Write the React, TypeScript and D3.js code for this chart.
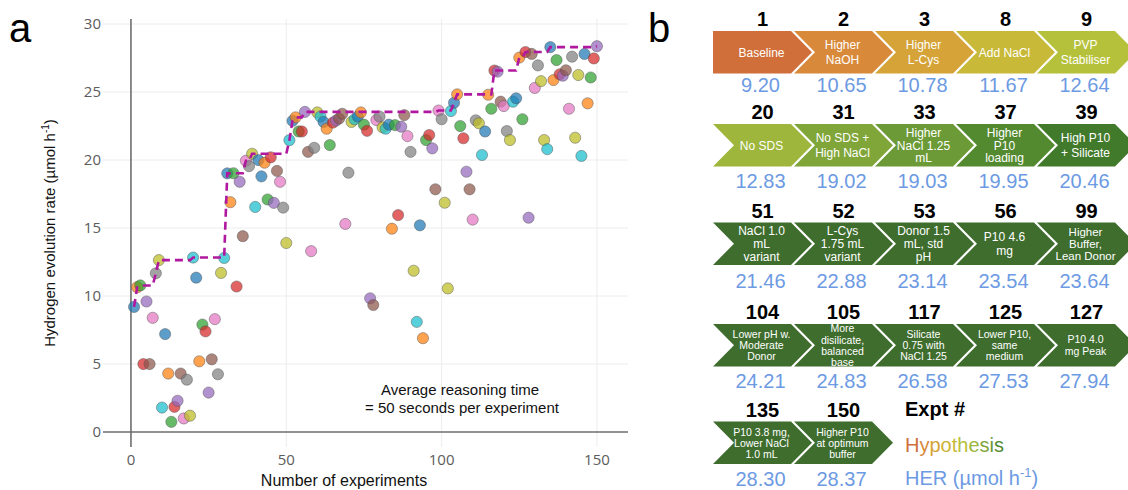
import { useEffect, useRef } from "react";
import * as d3 from "d3";

// HER per experiment (µmol h-1), experiments 1..150
const her = [
  9.2, 10.65, 10.78, 5.0, 9.6, 5.0, 8.4, 11.67, 12.64, 1.8,
  7.2, 4.3, 0.75, 1.85, 2.3, 4.3, 1.0, 3.85, 1.2, 12.83,
  11.35, 5.2, 7.9, 7.4, 2.9, 5.35, 8.3, 4.25, 11.7, 12.8,
  19.02, 16.9, 19.03, 10.7, 18.4, 14.4, 19.95, 19.55, 20.46, 16.55,
  20.0, 18.8, 19.8, 17.1, 20.2, 16.85, 19.2, 18.4, 16.5, 13.9,
  21.46, 22.88, 23.14, 22.1, 22.1, 23.54, 20.6, 13.3, 20.9, 23.5,
  23.2, 22.8, 22.3, 21.1, 22.75, 22.9, 23.05, 23.4, 15.3, 19.07,
  22.8, 23.0, 23.2, 23.5, 22.6, 22.15, 9.83, 9.34, 22.94, 23.2,
  22.4, 22.3, 22.6, 14.95, 22.57, 15.95, 22.45, 23.3, 21.76, 20.6,
  11.86, 8.1, 15.2, 6.9, 21.47, 21.84, 20.86, 17.85, 23.64, 23.0,
  16.86, 10.56, 23.6, 24.21, 24.83, 22.5, 21.6, 19.14, 17.85, 15.62,
  22.92, 22.7, 20.37, 22.1, 24.8, 23.77, 26.58, 26.5, 24.29, 23.97,
  22.13, 21.47, 24.29, 24.54, 27.53, 23.0, 27.94, 15.76, 27.8, 25.3,
  26.96, 25.8, 21.47, 20.8, 28.3, 25.88, 27.35, 26.3, 26.2, 26.6,
  23.77, 27.6, 21.64, 26.25, 20.3, 27.8, 24.17, 26.07, 27.47, 28.37,
];
const experiments = her.map((_, i) => i + 1);
// experiments where the colour cycle did not advance
const cycleRepeats = [42, 68, 102, 133, 144];

const milestoneExpt = [1, 2, 3, 8, 9, 20, 31, 33, 37, 39, 51, 52, 53, 56, 99, 104, 105, 117, 125, 127, 135, 150];
const milestoneHer = [9.2, 10.65, 10.78, 11.67, 12.64, 12.83, 19.02, 19.03, 19.95, 20.46, 21.46, 22.88, 23.14, 23.54, 23.64, 24.21, 24.83, 26.58, 27.53, 27.94, 28.3, 28.37];
const hypotheses = [
  "Baseline", "Higher\nNaOH", "Higher\nL-Cys", "Add NaCl", "PVP\nStabiliser",
  "No SDS", "No SDS +\nHigh NaCl", "Higher\nNaCl 1.25\nmL", "Higher\nP10\nloading", "High P10\n+ Silicate",
  "NaCl 1.0\nmL\nvariant", "L-Cys\n1.75 mL\nvariant", "Donor 1.5\nmL, std\npH", "P10 4.6\nmg", "Higher\nBuffer,\nLean Donor",
  "Lower pH w.\nModerate\nDonor", "More\ndisilicate,\nbalanced\nbase", "Silicate\n0.75 with\nNaCl 1.25", "Lower P10,\nsame\nmedium", "P10 4.0\nmg Peak",
  "P10 3.8 mg,\nLower NaCl\n1.0 mL", "Higher P10\nat optimum\nbuffer",
];

const xTicks = [0, 50, 100, 150];
const yTicks = [0, 5, 10, 15, 20, 25, 30];

const chevronFill = [
  "#d06f3a", "#d8893a", "#d5a337", "#c9b938", "#b6c13b",
  "#9db63b", "#80a63a", "#6b9a36", "#538a30", "#427a2c",
];
const darkGreen = "#3e6d2d";
const blueText = "#6c9ae3";

export default function App() {
  const root = useRef<SVGSVGElement>(null);

  useEffect(() => {
    const svg = d3.select(root.current);
    svg.selectAll("*").remove();

    // ---------- panel a ----------
    const x = d3.scaleLinear().domain([-9, 160]).range([103, 628]);
    const y = d3.scaleLinear().domain([-1.1, 30.37]).range([447, 19]);

    const g = svg.append("g");
    g.selectAll(".hgrid").data(yTicks.filter(t => t !== 0)).enter().append("line")
      .attr("x1", x(-9)).attr("x2", x(160))
      .attr("y1", d => y(d)).attr("y2", d => y(d))
      .attr("stroke", "#ececec").attr("stroke-width", 1);
    g.selectAll(".vgrid").data(xTicks.filter(t => t !== 0)).enter().append("line")
      .attr("y1", y(30.37)).attr("y2", y(-1.1))
      .attr("x1", d => x(d)).attr("x2", d => x(d))
      .attr("stroke", "#ececec").attr("stroke-width", 1);
    // zero lines
    g.append("line").attr("x1", x(-9)).attr("x2", x(160)).attr("y1", y(0)).attr("y2", y(0))
      .attr("stroke", "#6e6e6e").attr("stroke-width", 1.6);
    g.append("line").attr("x1", x(0)).attr("x2", x(0)).attr("y1", y(30.37)).attr("y2", y(-1.1))
      .attr("stroke", "#6e6e6e").attr("stroke-width", 1.6);

    g.selectAll(".ytick").data(yTicks).enter().append("text")
      .attr("x", 101).attr("y", d => y(d)).attr("dy", "0.36em")
      .attr("text-anchor", "end").attr("font-family", "Open Sans").attr("font-size", 15)
      .attr("fill", "#5c5c5c").text(d => d);
    g.selectAll(".xtick").data(xTicks).enter().append("text")
      .attr("x", d => x(d)).attr("y", 465)
      .attr("text-anchor", "middle").attr("font-family", "Open Sans").attr("font-size", 15)
      .attr("fill", "#5c5c5c").text(d => d);

    // colour slot per experiment
    let slot = -1;
    const slots = experiments.map(e => {
      if (!(slot >= 0 && cycleRepeats.includes(e))) slot += 1;
      return slot;
    });
    const palette = d3.schemeCategory10;

    g.selectAll("circle").data(experiments).enter().append("circle")
      .attr("cx", d => x(d)).attr("cy", (d, i) => y(her[i]))
      .attr("r", 5.6)
      .attr("fill", (d, i) => palette[slots[i] % 10])
      .attr("fill-opacity", 0.72)
      .attr("stroke", "rgba(80,80,80,0.45)").attr("stroke-width", 1);

    const stepPts: [number, number][] = [];
    milestoneExpt.forEach((e, i) => {
      if (i > 0 && e - 1 > milestoneExpt[i - 1]) stepPts.push([e - 1, milestoneHer[i - 1]]);
      stepPts.push([e, milestoneHer[i]]);
    });
    g.append("path")
      .attr("d", d3.line<[number, number]>().x(d => x(d[0])).y(d => y(d[1]))(stepPts))
      .attr("fill", "none").attr("stroke", "#b0189f").attr("stroke-width", 2.6)
      .attr("stroke-dasharray", "8,5");

    const ylab = g.append("text")
      .attr("transform", `translate(55,${(y(30.37) + y(-1.1)) / 2}) rotate(-90)`)
      .attr("text-anchor", "middle").attr("font-family", "Liberation Sans").attr("font-size", 15)
      .attr("fill", "#111");
    ylab.append("tspan").text("Hydrogen evolution rate (µmol h");
    ylab.append("tspan").attr("dy", -6).attr("font-size", 10).text("-1");
    ylab.append("tspan").attr("dy", 6).text(")");

    g.append("text").attr("x", 344).attr("y", 486).attr("text-anchor", "middle")
      .attr("font-family", "Liberation Sans").attr("font-size", 16).attr("fill", "#111")
      .text("Number of experiments");

    g.append("text").attr("x", 460).attr("y", 395).attr("text-anchor", "middle")
      .attr("font-family", "Liberation Sans").attr("font-size", 15).attr("fill", "#111")
      .text("Average reasoning time");
    g.append("text").attr("x", 462).attr("y", 412.5).attr("text-anchor", "middle")
      .attr("font-family", "Liberation Sans").attr("font-size", 15).attr("fill", "#111")
      .text("= 50 seconds per experiment");

    svg.append("text").attr("x", 9).attr("y", 42).attr("font-family", "Liberation Sans")
      .attr("font-size", 40).attr("fill", "#000").text("a");
    svg.append("text").attr("x", 648).attr("y", 42).attr("font-family", "Liberation Sans")
      .attr("font-size", 40).attr("fill", "#000").text("b");

    // ---------- panel b ----------
    const L0 = 713, P = 81, gap = 3, dep = 21, ch = 42.5;
    const rowTop = [31, 124, 222.5, 324, 421.5];
    const valueY = [92, 188, 288, 388, 486];
    const rowFont = [12, 12, 12, 10.5, 10.5];
    const b = svg.append("g");

    milestoneExpt.forEach((e, i) => {
      const row = Math.floor(i / 5), col = i % 5;
      const L = L0 + P * col, R = L + P - gap, top = rowTop[row], bot = top + ch, mid = top + ch / 2;
      const notch = i === 0 ? L : L + dep;
      const pts = [[L, top], [R, top], [R + dep, mid], [R, bot], [L, bot], [notch, mid]];
      b.append("path").attr("d", "M" + pts.map(p => p.join(",")).join("L") + "Z")
        .attr("fill", i < chevronFill.length ? chevronFill[i] : darkGreen);
      const cx = L + (P - gap + dep) / 2;

      b.append("text").attr("x", cx).attr("y", top - 5).attr("text-anchor", "middle")
        .attr("font-family", "Liberation Sans").attr("font-weight", "bold").attr("font-size", 20)
        .attr("fill", "#000").text(e);
      b.append("text").attr("x", cx - 2).attr("y", valueY[row]).attr("text-anchor", "middle")
        .attr("font-family", "Liberation Sans").attr("font-size", 20)
        .attr("fill", blueText).text(milestoneHer[i].toFixed(2));

      const lines = hypotheses[i].split("\n");
      let fs = rowFont[row];
      const t = b.append("text").attr("text-anchor", "middle").attr("font-family", "Liberation Sans")
        .attr("fill", "#fff");
      const spans = lines.map(s => t.append("tspan").attr("x", cx - 1).text(s));
      t.attr("font-size", fs);
      const widest = d3.max(spans, s => (s.node() as SVGTSpanElement).getComputedTextLength()) || 0;
      if (widest > 60) fs = fs * 60 / widest;
      t.attr("font-size", fs);
      const lh = lines.length === 2 ? fs * 1.2 : fs * 1.05;
      spans.forEach((s, k) => s.attr("y", mid + (k - (lines.length - 1) / 2) * lh + fs * 0.36));
    });

    b.append("text").attr("x", 905).attr("y", 416).attr("font-family", "Liberation Sans")
      .attr("font-weight", "bold").attr("font-size", 20).attr("fill", "#000").text("Expt #");
    const hyp = b.append("text").attr("x", 905).attr("y", 451.5).attr("font-family", "Liberation Sans")
      .attr("font-size", 20);
    const hypColours = ["#d06f3a", "#d8893a", "#d5a337", "#cdb237", "#c9b938", "#b6c13b", "#9db63b", "#80a63a", "#6b9a36", "#538a30"];
    "Hypothesis".split("").forEach((c, k) => hyp.append("tspan").attr("fill", hypColours[k]).text(c));
    const herLab = b.append("text").attr("x", 905).attr("y", 485).attr("font-family", "Liberation Sans")
      .attr("font-size", 20).attr("fill", blueText);
    herLab.append("tspan").text("HER (µmol h");
    herLab.append("tspan").attr("dy", -8).attr("font-size", 13).text("-1");
    herLab.append("tspan").attr("dy", 8).text(")");
  }, []);

  return (
    <svg ref={root} width={1128} height={490}
      style={{ position: "absolute", left: 0, top: 0, background: "#fff" }} />
  );
}
